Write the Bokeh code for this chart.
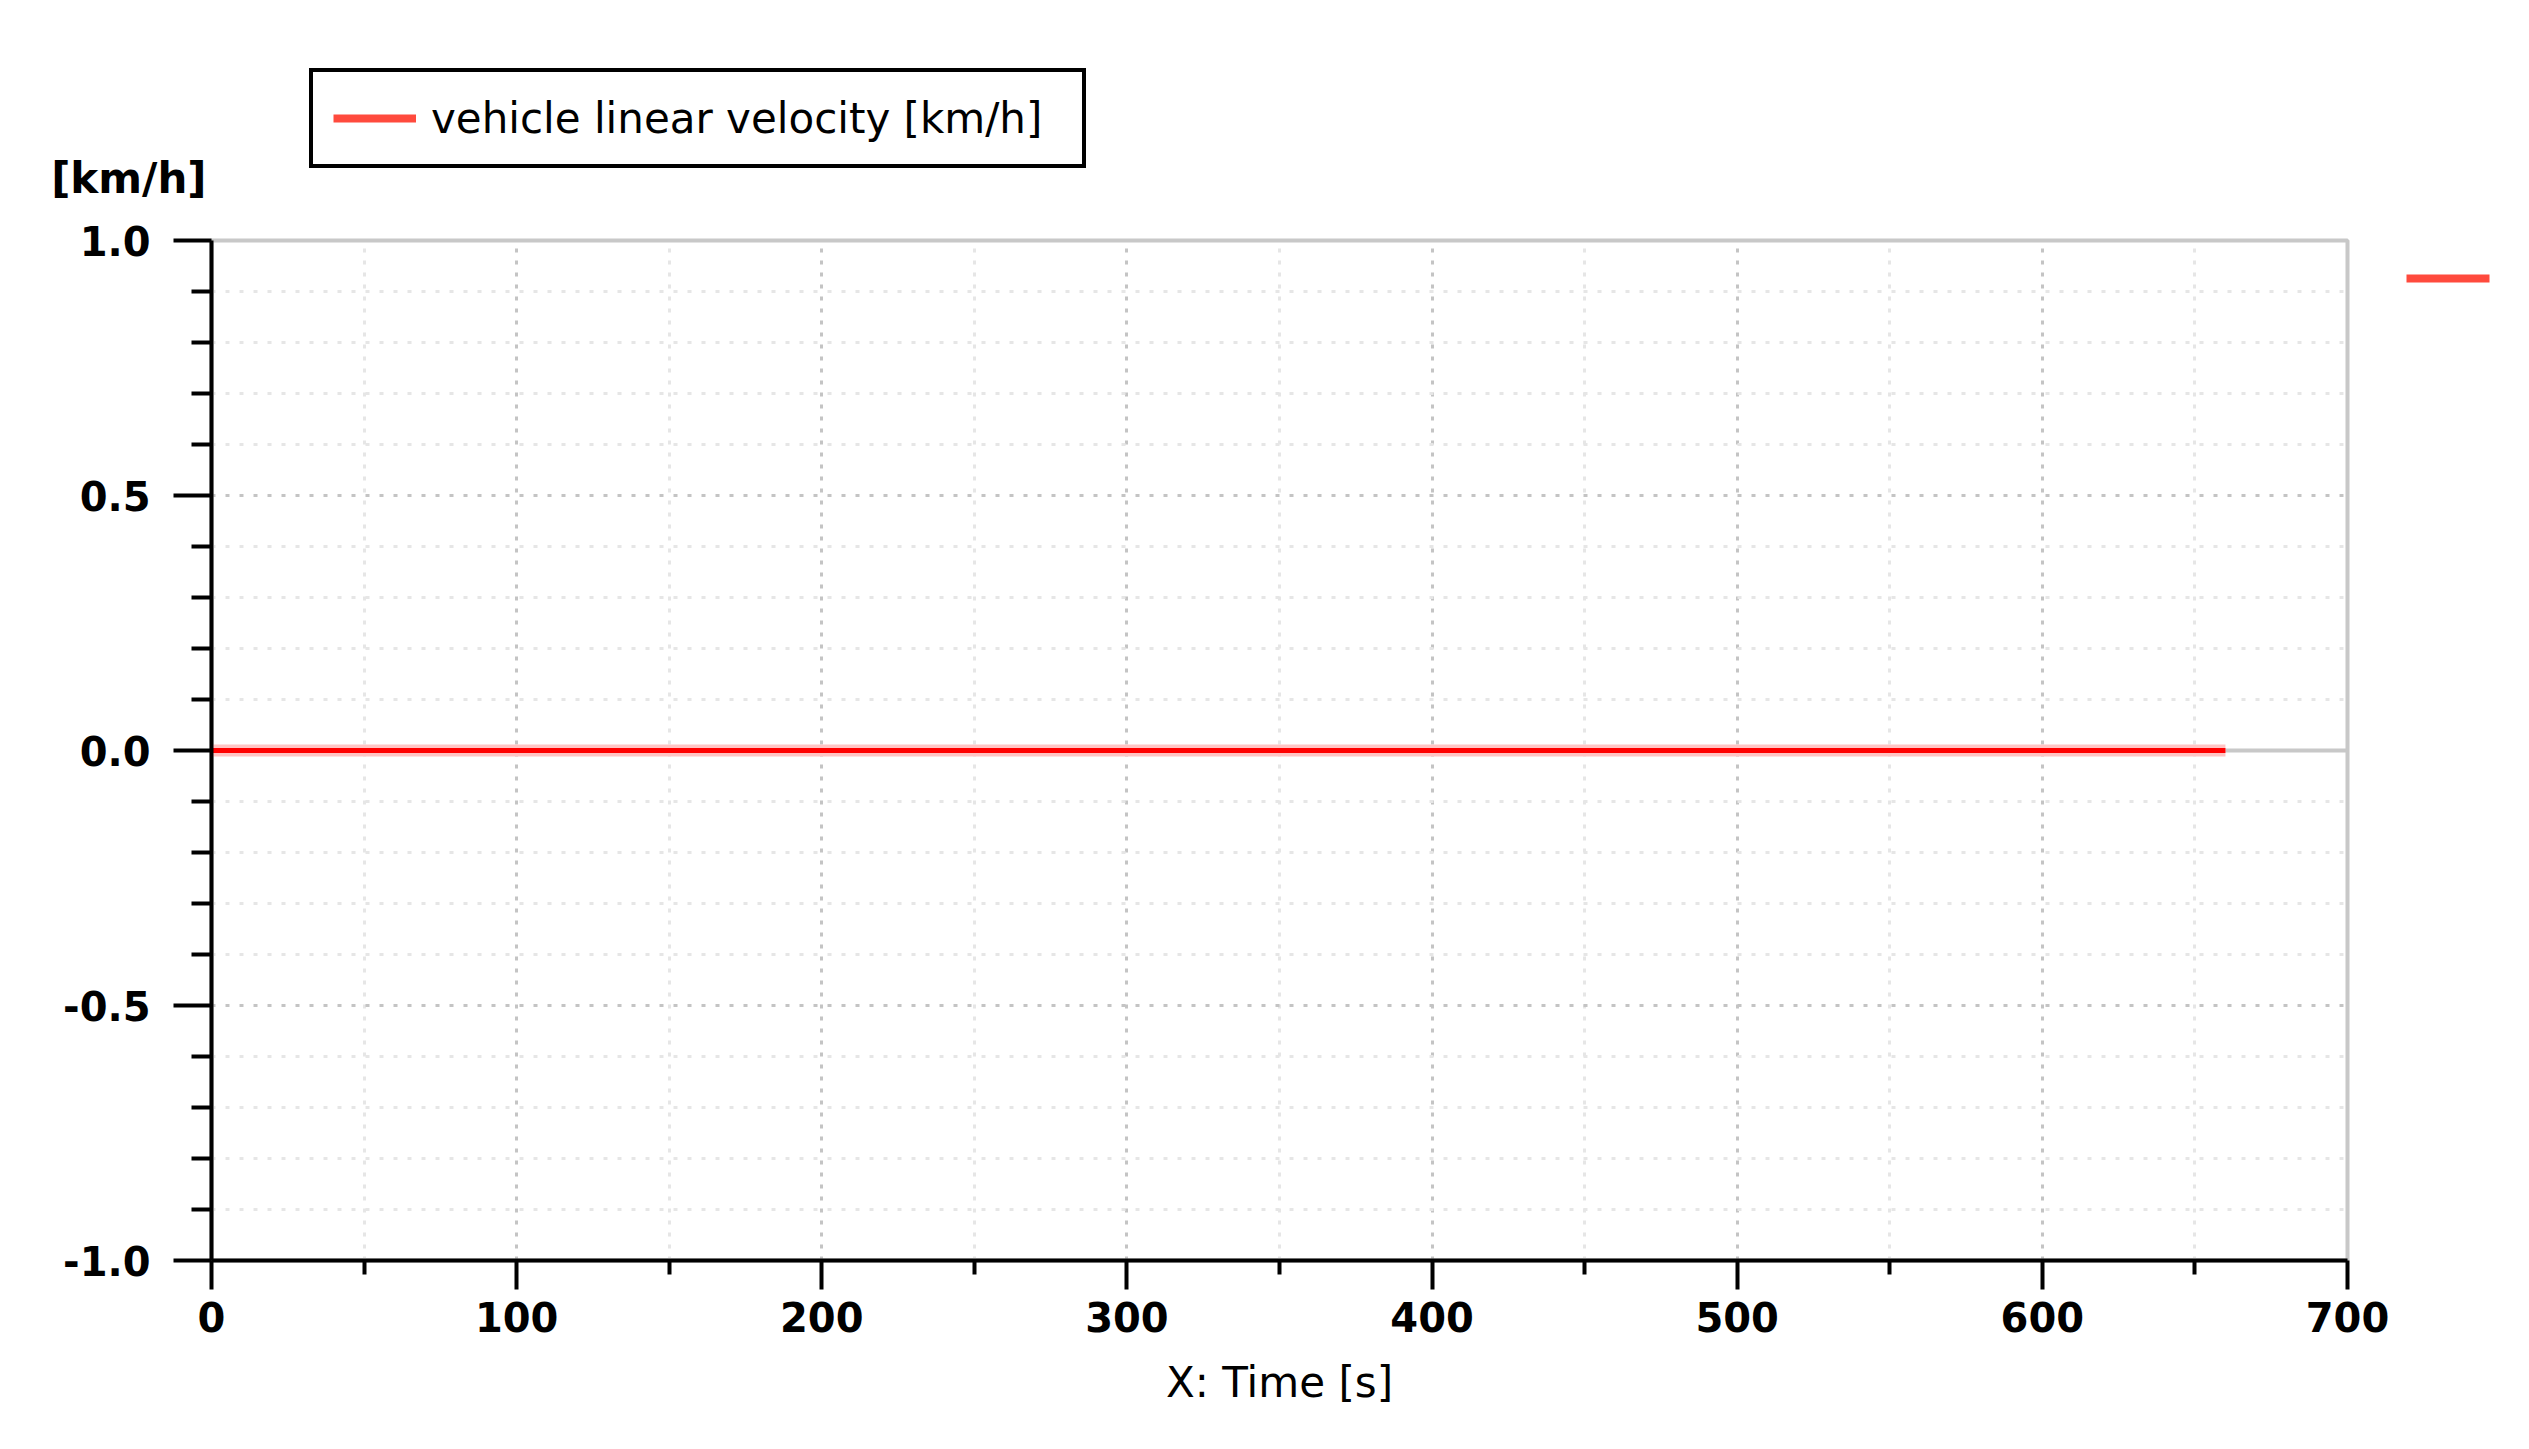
from bokeh.plotting import figure
from bokeh.layouts import column
from bokeh.models import (Range1d, FixedTicker, NumeralTickFormatter, Span,
                          Legend, LegendItem, ColumnDataSource, LinearAxis)
from bokeh.embed import file_html
from bokeh.resources import INLINE

# ---- data ----
time_s = [0, 660]
velocity_kmh = [0.0, 0.0]
series_name = "vehicle linear velocity [km/h]"
x_major = [0, 100, 200, 300, 400, 500, 600, 700]
x_minor = [50, 150, 250, 350, 450, 550, 650]
y_major = [-1.0, -0.5, 0.0, 0.5, 1.0]
y_minor = [-0.9, -0.8, -0.7, -0.6, -0.4, -0.3, -0.2, -0.1,
           0.1, 0.2, 0.3, 0.4, 0.6, 0.7, 0.8, 0.9]
y_unit = "[km/h]"
x_title = "X: Time [s]"
marker_level = [0.925]   # right-hand series marker height

FONT = "DejaVu Sans"
W = 2513
TOP_H = 212
TOP_PAD_BOTTOM = 34          # header frame bottom sits at y = 178
MAIN_TOP = 240 - TOP_H       # space above the main frame
MAIN_H = 1433 - TOP_H

src = ColumnDataSource(dict(t=time_s, v=velocity_kmh))

# ---------------- header strip (legend + unit label) ----------------
# header y-range is placed far from the data so the series itself is out of
# view here; it only feeds the legend swatch
HY0 = 1000
top = figure(width=W, height=TOP_H, output_backend="svg", toolbar_location=None,
             x_range=Range1d(0, 700), y_range=Range1d(HY0, HY0 + TOP_H),
             x_axis_location=None, y_axis_location=None,
             min_border_left=0, min_border_right=0,
             min_border_top=0, min_border_bottom=TOP_PAD_BOTTOM)
top.grid.visible = False
top.outline_line_color = None
top.background_fill_color = "white"
top.border_fill_color = "white"

unit_axis = LinearAxis(ticker=FixedTicker(ticks=[], minor_ticks=[]),
                       axis_line_color=None, major_tick_line_color=None,
                       minor_tick_line_color=None,
                       major_tick_out=0, minor_tick_out=0, major_tick_in=0,
                       minor_tick_in=0, major_label_standoff=0,
                       axis_label=y_unit, axis_label_orientation="horizontal",
                       axis_label_align="start",
                       axis_label_standoff=5,
                       axis_label_text_font=FONT,
                       axis_label_text_font_style="bold",
                       axis_label_text_font_size="42px",
                       axis_label_text_color="black")
top.add_layout(unit_axis, "left")

leg_r = top.line("t", "v", source=src, line_color="#ff4a3d", line_width=8)
legend = Legend(items=[LegendItem(label=series_name, renderers=[leg_r])],
                location=(98, 10), orientation="vertical",
                border_line_color="black", border_line_width=4, border_line_alpha=1.0,
                background_fill_color="white", background_fill_alpha=1.0,
                padding=20, margin=0, spacing=0,
                glyph_width=83, glyph_height=52,
                label_standoff=15, label_width=631, label_height=52,
                label_text_font=FONT, label_text_font_size="42px",
                label_text_color="black")
top.add_layout(legend, "center")

# ---------------- main plot ----------------
p = figure(width=W, height=MAIN_H, output_backend="svg", toolbar_location=None,
           x_range=Range1d(0, 700), y_range=Range1d(-1, 1),
           min_border_left=211, min_border_right=W - 2347,
           min_border_top=MAIN_TOP, min_border_bottom=MAIN_H - MAIN_TOP - 1020)
p.background_fill_color = "white"
p.border_fill_color = "white"
p.outline_line_color = "#c8c8c8"
p.outline_line_width = 4

for ax in (p.xaxis[0], p.yaxis[0]):
    ax.axis_line_color = "black"
    ax.axis_line_width = 4
    ax.major_tick_line_color = "black"
    ax.major_tick_line_width = 4
    ax.minor_tick_line_color = "black"
    ax.minor_tick_line_width = 4
    ax.major_tick_in = 0
    ax.minor_tick_in = 0
    ax.major_label_text_font = FONT
    ax.major_label_text_font_style = "bold"
    ax.major_label_text_font_size = "40px"
    ax.major_label_text_color = "black"

p.xaxis.ticker = FixedTicker(ticks=x_major, minor_ticks=x_minor)
p.yaxis.ticker = FixedTicker(ticks=y_major, minor_ticks=y_minor)
p.xaxis.formatter = NumeralTickFormatter(format="0")
p.yaxis.formatter = NumeralTickFormatter(format="0.0")
p.xaxis.major_tick_out = 29
p.xaxis.minor_tick_out = 14
p.yaxis.major_tick_out = 38
p.yaxis.minor_tick_out = 20
p.xaxis.major_label_standoff = 12
p.yaxis.major_label_standoff = 23

p.xaxis.axis_label = x_title
p.xaxis.axis_label_text_font = FONT
p.xaxis.axis_label_text_font_style = "normal"
p.xaxis.axis_label_text_font_size = "42px"
p.xaxis.axis_label_text_color = "black"
p.xaxis.axis_label_standoff = 23

# right-hand series marker drawn as a detached tick of a right axis
rax = LinearAxis(ticker=FixedTicker(ticks=marker_level, minor_ticks=[]),
                 axis_line_color=None,
                 major_tick_line_color="#ff4a3d", major_tick_line_width=8,
                 major_tick_line_cap="butt",
                 major_tick_in=-59, major_tick_out=142,
                 major_label_text_font_size="0px",
                 major_label_overrides={marker_level[0]: ""})
p.add_layout(rax, "right")

# grids
p.xgrid.grid_line_color = "#c4c4c4"
p.xgrid.grid_line_width = 3
p.xgrid.grid_line_dash = "4 8"
p.xgrid.minor_grid_line_color = "#e6e6e6"
p.xgrid.minor_grid_line_width = 3
p.xgrid.minor_grid_line_dash = "4 8"
p.ygrid.grid_line_color = "#c4c4c4"
p.ygrid.grid_line_width = 3
p.ygrid.grid_line_dash = "4 10"
p.ygrid.minor_grid_line_color = "#e6e6e6"
p.ygrid.minor_grid_line_width = 3
p.ygrid.minor_grid_line_dash = "4 10"

# zero reference line
p.add_layout(Span(location=0, dimension="width", line_color="#c8c8c8",
                  line_width=4, level="underlay"))

# series
p.line("t", "v", source=src, line_color="#ffc4c4", line_width=12)
p.line("t", "v", source=src, line_color="#ff0000", line_width=5)

layout = column(top, p, spacing=0)
open("out.html", "w").write(file_html(layout, INLINE))
